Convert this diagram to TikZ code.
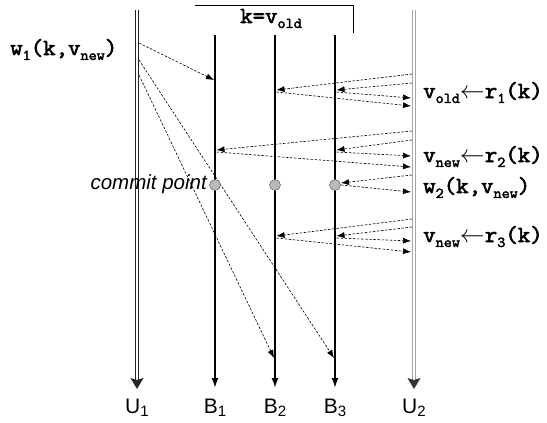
\documentclass[tikz,border=0pt]{standalone}
\usepackage{fontspec}
\setmainfont{Liberation Sans}
\newfontfamily\monob{Latin Modern Mono}[FakeBold=2.5,FakeStretch=1.05]
\usetikzlibrary{arrows.meta}
\newcommand\lsub[1]{\raisebox{-0.5ex}{\fontsize{15}{15}\selectfont #1}}
\newcommand\lsubs[1]{\raisebox{-0.35ex}{\fontsize{15}{15}\selectfont #1}}
\tikzset{
  life/.style={line width=1.7pt,-{Latex[length=10pt,width=7pt]}},
  userline/.style={double=white, double distance=2.2pt, line width=0.8pt},
  msg/.style={line width=0.6pt, dash pattern=on 2.5pt off 1.6pt, -{Latex[length=8pt,width=6pt]}},
  lbl/.style={font=\monob\fontsize{23}{23}\selectfont, anchor=base west, inner sep=0pt},
  pname/.style={font=\fontsize{21}{21}\selectfont, anchor=base, inner sep=0pt},
  cpt/.style={circle, fill=gray!55, draw=gray!60!black, line width=0.4pt, minimum size=11pt, inner sep=0pt},
}
\begin{document}
\begin{tikzpicture}[x=1pt,y=-1pt]
\useasboundingbox (0,0) rectangle (547,423);
% lifeline ends
\coordinate (U1t) at (137,10); \coordinate (U1b) at (137,380);
\coordinate (U2t) at (414,10); \coordinate (U2b) at (414,380);
\coordinate (B1t) at (215,35); \coordinate (B1b) at (215,388);
\coordinate (B2t) at (275,35); \coordinate (B2b) at (275,388);
\coordinate (B3t) at (335,35); \coordinate (B3b) at (335,388);
% lifelines
\draw[userline, draw=black!85] (U1t) -- (U1b);
\draw[userline, draw=gray!70] (U2t) -- (U2b);
\fill[black!85] (U1b) -- ++(-6.5,-2) -- ++(6.5,11) -- ++(6.5,-11) -- cycle;
\fill[black!80] (U2b) -- ++(-6.5,-2) -- ++(6.5,11) -- ++(6.5,-11) -- cycle;
\draw[life] (B1t) -- (B1b);
\draw[life] (B2t) -- (B2b);
\draw[life] (B3t) -- (B3b);
% bracket
\coordinate (kL) at (195,5); \coordinate (kR) at (353,5); \coordinate (kD) at (353,33);
\draw[line width=0.9pt] (kL) -- (kR) -- (kD);
\node[lbl] (kv) at (240,23) {k=v\lsub{old}};
% w1 messages
\coordinate (w1a) at (139,43);  \coordinate (w1A) at (214,80);
\coordinate (w1b) at (139,60);  \coordinate (w1B) at (334,358);
\coordinate (w1c) at (139,75);  \coordinate (w1C) at (274,358);
\draw[msg] (w1a) -- (w1A);
\draw[msg] (w1b) -- (w1B);
\draw[msg] (w1c) -- (w1C);
% r1
\coordinate (r1a) at (412,74);  \coordinate (r1A) at (276.5,90);
\coordinate (r1b) at (412,83);  \coordinate (r1B) at (336.5,90);
\coordinate (r1c) at (336.5,92); \coordinate (r1C) at (411,98);
\coordinate (r1d) at (276.5,92); \coordinate (r1D) at (411,106);
\draw[msg] (r1a) -- (r1A);
\draw[msg] (r1b) -- (r1B);
\draw[msg] (r1c) -- (r1C);
\draw[msg] (r1d) -- (r1D);
% r2
\coordinate (r2a) at (412,131); \coordinate (r2A) at (216.5,150);
\coordinate (r2b) at (412,140); \coordinate (r2B) at (336.5,150);
\coordinate (r2c) at (336.5,152); \coordinate (r2C) at (411,156);
\coordinate (r2d) at (216.5,152); \coordinate (r2D) at (411,167);
\draw[msg] (r2a) -- (r2A);
\draw[msg] (r2b) -- (r2B);
\draw[msg] (r2c) -- (r2C);
\draw[msg] (r2d) -- (r2D);
% w2
\coordinate (w2a) at (412,175); \coordinate (w2A) at (341,183);
\coordinate (w2b) at (341,185); \coordinate (w2B) at (411,192);
\draw[msg] (w2a) -- (w2A);
\draw[msg] (w2b) -- (w2B);
% r3
\coordinate (r3a) at (412,219); \coordinate (r3A) at (276.5,236);
\coordinate (r3b) at (412,227); \coordinate (r3B) at (336.5,236);
\coordinate (r3c) at (336.5,238); \coordinate (r3C) at (411,241);
\coordinate (r3d) at (276.5,238); \coordinate (r3D) at (411,252);
\draw[msg] (r3a) -- (r3A);
\draw[msg] (r3b) -- (r3B);
\draw[msg] (r3c) -- (r3C);
\draw[msg] (r3d) -- (r3D);
% commit points
\node[cpt] (c1) at (215,185) {};
\node[cpt] (c2) at (275,185) {};
\node[cpt] (c3) at (335,185) {};
\node[font=\itshape\fontsize{20.5}{20.5}\selectfont, anchor=base east, inner sep=0pt] (cp) at (207,189) {commit point};
% labels
\node[lbl] (lw1) at (10,55) {w\lsub{1}(k,v\lsub{new})};
\node[lbl] (l1) at (423,98) {v\lsub{old}$\leftarrow$r\lsub{1}(k)};
\node[lbl] (l2) at (423,162) {v\lsub{new}$\leftarrow$r\lsub{2}(k)};
\node[lbl] (l3) at (423,193) {w\lsub{2}(k,v\lsub{new})};
\node[lbl] (l4) at (423,242) {v\lsub{new}$\leftarrow$r\lsub{3}(k)};
% process names
\node[pname] (nU1) at (137,413) {U\lsubs{1}};
\node[pname] (nB1) at (215,413) {B\lsubs{1}};
\node[pname] (nB2) at (275,413) {B\lsubs{2}};
\node[pname] (nB3) at (335,413) {B\lsubs{3}};
\node[pname] (nU2) at (414,413) {U\lsubs{2}};
\end{tikzpicture}
\end{document}
